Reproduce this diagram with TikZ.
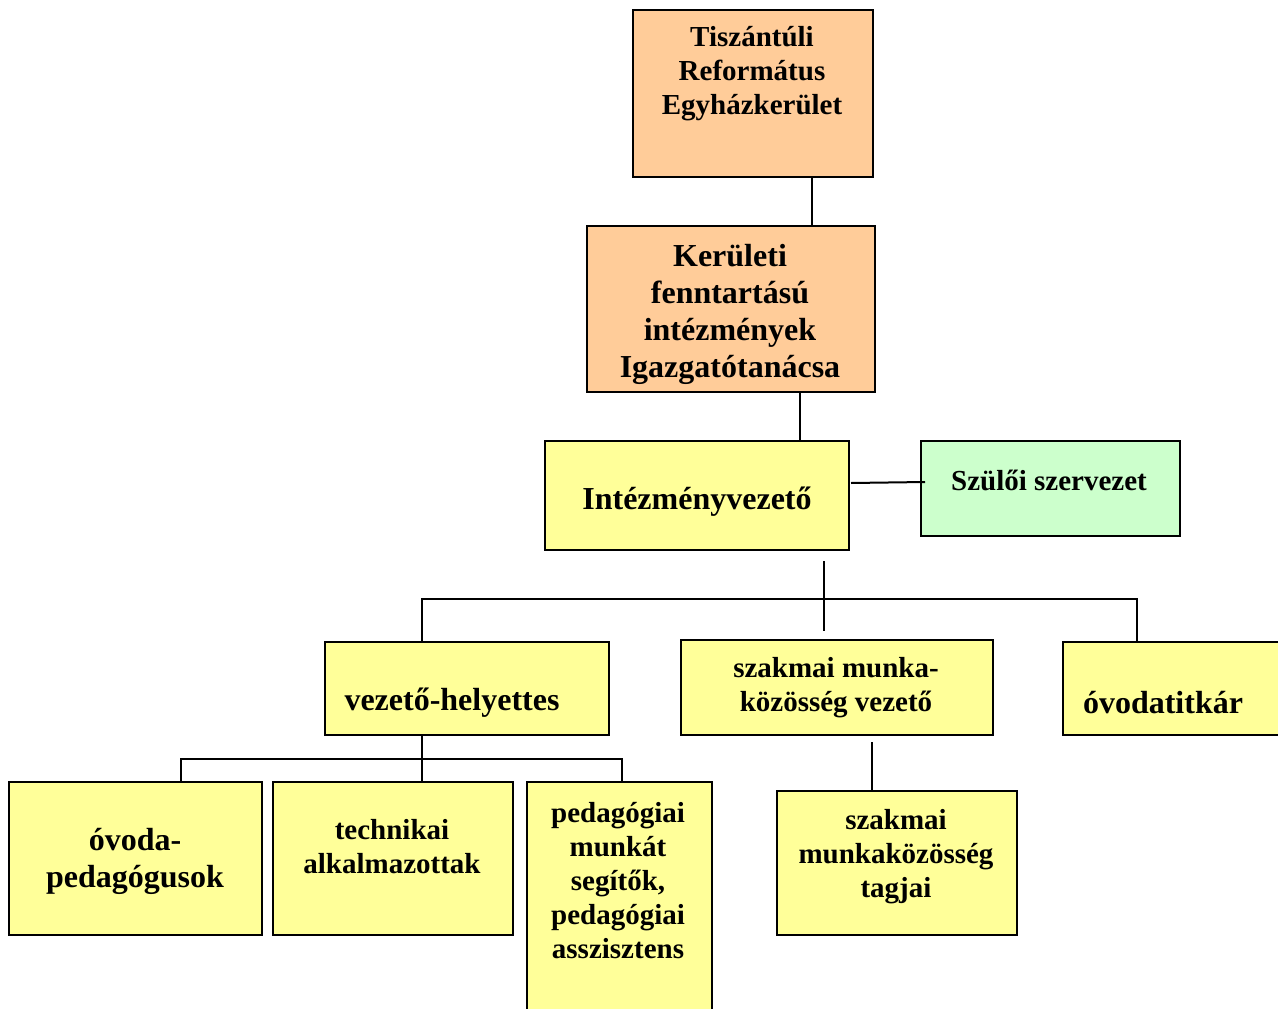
\documentclass[tikz,border=0pt]{standalone}
\usepackage{fontspec}
\setmainfont{Liberation Serif}
\definecolor{orng}{HTML}{FFCC99}
\definecolor{yllw}{HTML}{FFFF99}
\definecolor{grn}{HTML}{CCFFCC}
\begin{document}
\begin{tikzpicture}[x=1pt,y=-1pt,
  box/.style={draw=black,line width=2pt,rectangle,inner sep=0pt,anchor=north west},
  lbl/.style={align=center,font=\bfseries\fontsize{29}{34}\selectfont,inner sep=0pt},
  lblbig/.style={align=center,font=\bfseries\fontsize{32}{37}\selectfont,inner sep=0pt},
  conn/.style={line width=2pt}]
\useasboundingbox (0,0) rectangle (1278,1009);
\clip (0,0) rectangle (1278,1009);
\fill[white] (0,0) rectangle (1278,1009);
% boxes
\node[box,fill=orng,minimum width=240,minimum height=167] (b1) at (632,9) {};
\node[box,fill=orng,minimum width=288,minimum height=166] (b2) at (586,225) {};
\node[box,fill=yllw,minimum width=304,minimum height=109] (b3) at (544,440) {};
\node[box,fill=grn,minimum width=259,minimum height=95] (b4) at (920,440) {};
\node[box,fill=yllw,minimum width=284,minimum height=93] (b5) at (324,641) {};
\node[box,fill=yllw,minimum width=312,minimum height=95] (b6) at (680,639) {};
\node[box,fill=yllw,minimum width=240,minimum height=93] (b7) at (1062,641) {};
\node[box,fill=yllw,minimum width=253,minimum height=153] (b8) at (8,781) {};
\node[box,fill=yllw,minimum width=240,minimum height=153] (b9) at (272,781) {};
\node[box,fill=yllw,minimum width=185,minimum height=260] (b10) at (526,781) {};
\node[box,fill=yllw,minimum width=240,minimum height=144] (b11) at (776,790) {};
% texts
\node[lbl] (t1) at (752,74) {Tiszántúli\\Református\\Egyházkerület};
\node[lblbig] (t2) at (730,314) {Kerületi\\fenntartású\\intézmények\\Igazgatótanácsa};
\node[lblbig] (t3) at (697,502) {Intézményvezető};
\node[lbl] (t4) at (1049,480) {Szülői szervezet};
\node[lblbig] (t5) at (452,703) {vezető-helyettes};
\node[lbl] (t6) at (836,688) {szakmai munka-\\közösség vezető};
\node[lblbig] (t7) at (1163,703) {óvodatitkár};
\node[lblbig] (t8) at (135,861) {óvoda-\\pedagógusok};
\node[lbl] (t9) at (392,847) {technikai\\alkalmazottak};
\node[lbl] (t10) at (618,881) {pedagógiai\\munkát\\segítők,\\pedagógiai\\asszisztens};
\node[lbl] (t11) at (896,857) {szakmai\\munkaközösség\\tagjai};
% connector points
\coordinate (c12) at (812,0);
\coordinate (c23) at (800,0);
\coordinate (s34a) at (851,483);
\coordinate (s34b) at (925,482);
\coordinate (h1top) at (824,561);
\coordinate (h1bot) at (824,631);
\coordinate (h1l) at (422,599);
\coordinate (h1r) at (1137,599);
\coordinate (h2l) at (181,759);
\coordinate (h2m) at (422,759);
\coordinate (h2r) at (622,759);
\coordinate (v611) at (872,742);
% connectors
\draw[conn] (b1.south -| c12) -- (b2.north -| c12);
\draw[conn] (b2.south -| c23) -- (b3.north -| c23);
\draw[conn] (s34a) -- (s34b);
\draw[conn] (h1top) -- (h1bot);
\draw[conn] (b5.north -| h1l) -- (h1l) -- (h1r) -- (b7.north -| h1r);
\draw[conn] (b5.south -| h2m) -- (b9.north -| h2m);
\draw[conn] (b8.north -| h2l) -- (h2l) -- (h2r) -- (b10.north -| h2r);
\draw[conn] (v611) -- (b11.north -| v611);
\end{tikzpicture}
\end{document}
